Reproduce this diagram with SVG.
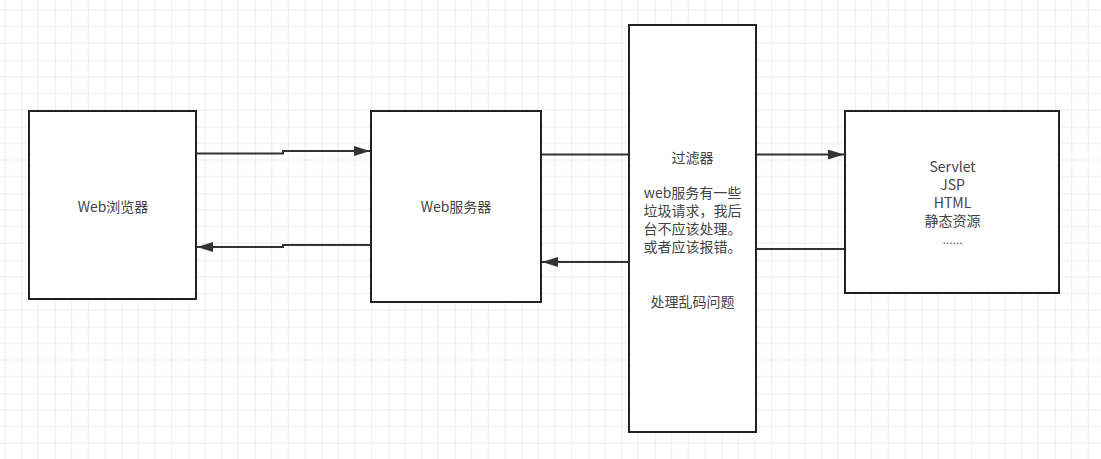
<svg xmlns="http://www.w3.org/2000/svg" width="1101" height="459" viewBox="0 0 1101 459">
<style>
.box{fill:#fff;stroke:#222;stroke-width:2}
.ln{fill:none;stroke:#333;stroke-width:2}
.t{font-family:"Noto Sans CJK SC","Noto Sans",sans-serif;font-size:14px;fill:#444;text-anchor:middle}
.d{font-family:"Liberation Sans",sans-serif;font-size:12px;fill:#444;text-anchor:middle}
</style>
<defs>
<pattern id="grid" patternUnits="userSpaceOnUse" x="55" y="60" width="66.667" height="66.667">
<path d="M16.667 0V66.667M33.333 0V66.667M50 0V66.667M0 16.667H66.667M0 33.333H66.667M0 50H66.667" stroke="#ececec" stroke-width="1" fill="none"/>
<path d="M0 0V66.667M0 0H66.667" stroke="#e0e0e0" stroke-width="1" fill="none"/>
</pattern>
<marker id="arr" markerUnits="userSpaceOnUse" viewBox="0 0 16 10" refX="16" refY="5" markerWidth="16" markerHeight="10" orient="auto">
<path d="M0 0L16 5L0 10Z" fill="#333"/>
</marker>
</defs>
<rect width="1101" height="459" fill="#fff"/>
<rect width="1101" height="459" fill="url(#grid)"/>
<g id="connectors">
<path class="ln" d="M196 153.5H283V151H370" marker-end="url(#arr)"/>
<path class="ln" d="M371 245H283V247H197" marker-end="url(#arr)"/>
<path class="ln" d="M541 154.5H629"/>
<path class="ln" d="M629 262H542" marker-end="url(#arr)"/>
<path class="ln" d="M756 154.5H844" marker-end="url(#arr)"/>
<path class="ln" d="M845 249H756"/>
</g>
<g id="browser">
<rect class="box" x="29" y="111" width="167" height="188"/>
<text class="t" x="113" y="212">Web浏览器</text>
</g>
<g id="server">
<rect class="box" x="371" y="111" width="170" height="191"/>
<text class="t" x="456" y="212">Web服务器</text>
</g>
<g id="filter">
<rect class="box" x="629" y="25" width="127" height="407"/>
<text class="t" x="692.5" y="163">过滤器</text>
<text class="t" x="692.5" y="198">web服务有一些</text>
<text class="t" x="692.5" y="216">垃圾请求，我后</text>
<text class="t" x="692.5" y="234">台不应该处理。</text>
<text class="t" x="692.5" y="252">或者应该报错。</text>
<text class="t" x="692.5" y="307">处理乱码问题</text>
</g>
<g id="resources">
<rect class="box" x="845" y="111" width="214" height="182"/>
<text class="t" x="952.5" y="172">Servlet</text>
<text class="t" x="952.5" y="190">JSP</text>
<text class="t" x="952.5" y="208">HTML</text>
<text class="t" x="952.5" y="226">静态资源</text>
<text class="d" x="952.5" y="244">......</text>
</g>
</svg>
